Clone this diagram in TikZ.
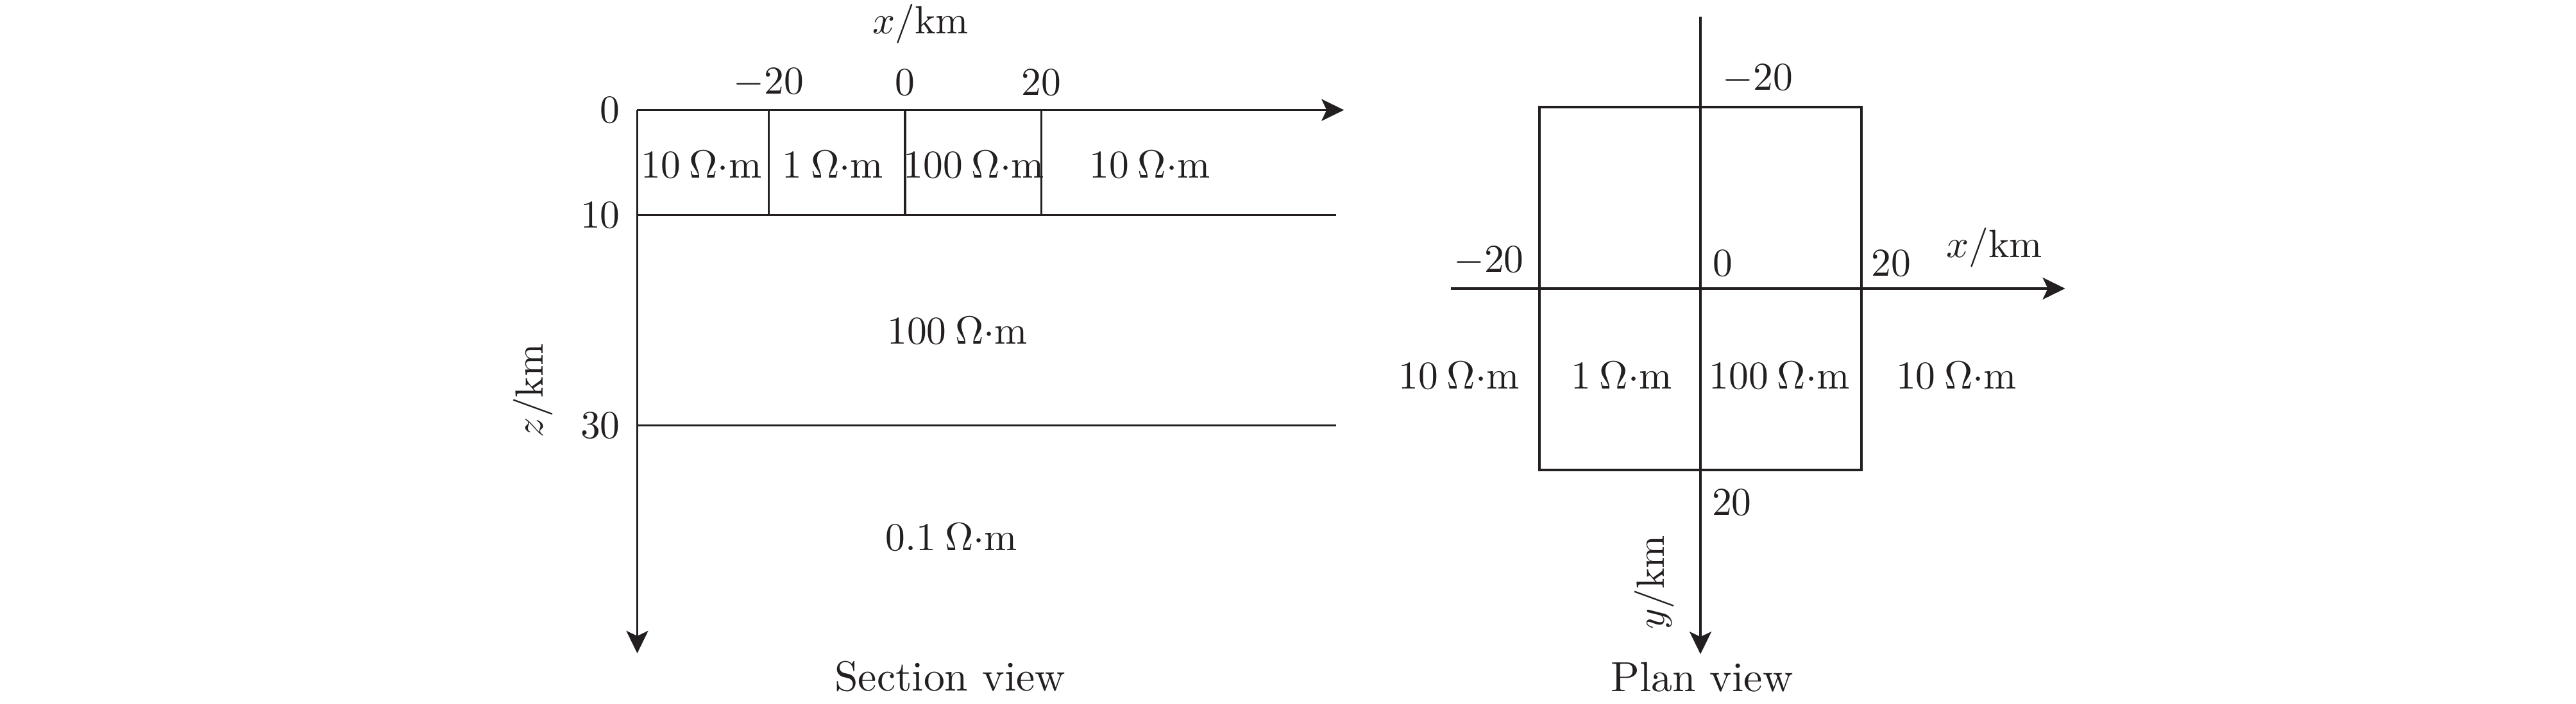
\documentclass[tikz,border=0pt]{standalone}
\usepackage{tikz}
\usetikzlibrary{arrows.meta}
\definecolor{ink}{HTML}{231F20}

\newcommand{\rohm}[1]{$#1\:\Omega{\cdot}\mathrm{m}$}

\tikzset{
  axisline/.style={draw=ink, line width=1pt, -{Stealth[length=0.35cm, width=0.34cm, inset=0.08cm]}},
  layer/.style={draw=ink, line width=0.9pt},
  lab/.style={text=ink, inner sep=0pt, scale=1.75},
  caption/.style={text=ink, inner sep=0pt, scale=1.87},
}

\begin{document}
\begin{tikzpicture}
  \useasboundingbox (0,0) rectangle (40.16,-10.98);

  % section view, x and depth in km
  \begin{scope}[shift={(14.11,-1.716)}, x=0.10625cm, y=-0.1639cm]
    \coordinate (O) at (-39.3,0);
    \coordinate (z10) at (-39.3,10);
    \coordinate (z30) at (-39.3,30);
    \foreach \x in {-20,0,20}
      \draw[layer] (\x,0) -- (\x,10);
    \draw[layer] (z10) -- (63.2,10);
    \draw[layer] (z30) -- (63.2,30);
    \draw[axisline] (O) -- (64.4,0);
    \draw[axisline] (O) -- (-39.3,51.7);

    \node[lab] (xm20) at (-20,-2.6) {$-20$};
    \node[lab] (x0) at (0,-2.6) {$0$};
    \node[lab] (x20) at (20,-2.6) {$20$};
    \node[lab] (xlab) at (2.3,-8.2) {$x/\mathrm{km}$};
    \node[lab, anchor=east] (d0) at (-41.7,0) {$0$};
    \node[lab, anchor=east] (d10) at (-41.7,10) {$10$};
    \node[lab, anchor=east] (d30) at (-41.7,30) {$30$};
    \node[lab, rotate=90] (zlab) at (-54.6,26.7) {$z/\mathrm{km}$};

    \node[lab] (s1) at (-29.9,5.2) {\rohm{10}};
    \node[lab] (s2) at (-10.6,5.2) {\rohm{1}};
    \node[lab] (s3) at (10.1,5.2) {\rohm{100}};
    \node[lab] (s4) at (35.9,5.2) {\rohm{10}};
    \node[lab] (s5) at (7.7,21) {\rohm{100}};
    \node[lab] (s6) at (6.8,40.6) {\rohm{0.1}};
    \node[caption] (sec) at (6.6,53.9) {Section view};
  \end{scope}

  % plan view, x and y in km
  \begin{scope}[shift={(26.51,-4.50)}, x=0.1255cm, y=-0.1415cm]
    \draw[layer] (-20,-20) rectangle (20,20);
    \draw[axisline] (-31,0) -- (45.3,0);
    \draw[axisline] (0,-30) -- (0,40.3);

    \node[lab] (ym20) at (7.1,-23.1) {$-20$};
    \node[lab] (pxm20) at (-26.3,-3) {$-20$};
    \node[lab] (p0) at (2.8,-2.8) {$0$};
    \node[lab] (px20) at (23.7,-2.8) {$20$};
    \node[lab] (pxlab) at (36.5,-4.5) {$x/\mathrm{km}$};
    \node[lab] (y20) at (3.9,23.6) {$20$};
    \node[lab, rotate=90] (ylab) at (-5.7,32.4) {$y/\mathrm{km}$};

    \node[lab] (p1) at (-30,9.6) {\rohm{10}};
    \node[lab] (p2) at (-9.8,9.6) {\rohm{1}};
    \node[lab] (p3) at (9.8,9.6) {\rohm{100}};
    \node[lab] (p4) at (31.8,9.6) {\rohm{10}};
    \node[caption] (plan) at (0.2,42.8) {Plan view};
  \end{scope}
\end{tikzpicture}
\end{document}
